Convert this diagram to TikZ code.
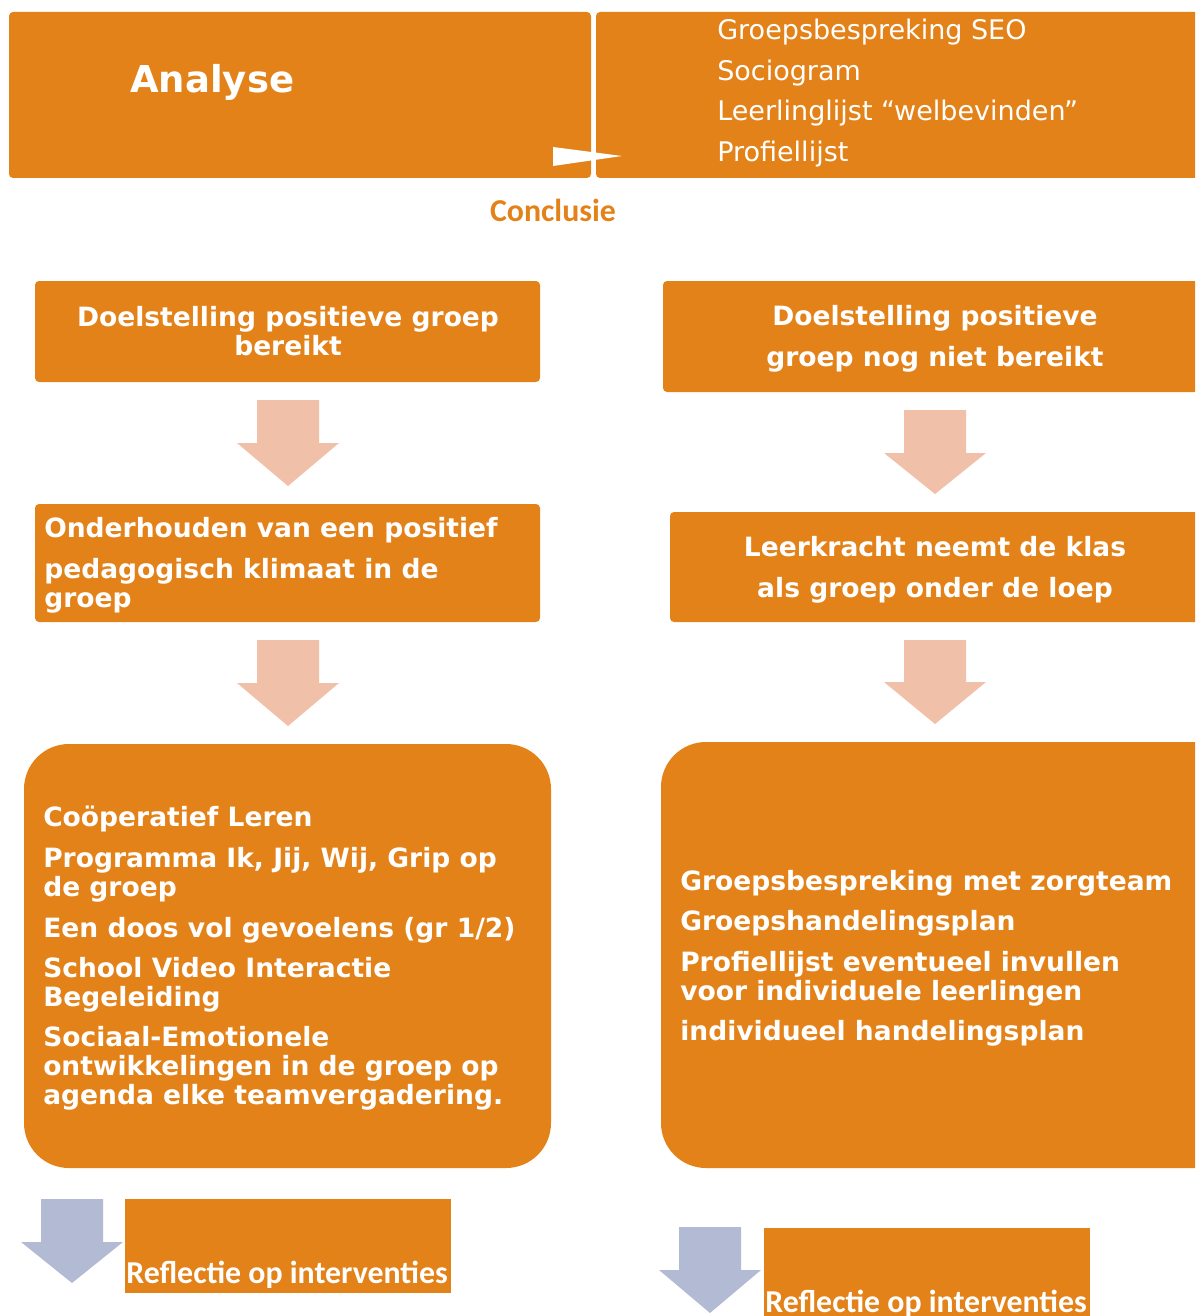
\documentclass[tikz,border=0pt]{standalone}
\usepackage{fontspec}
\setmainfont{DejaVu Sans}
\newfontfamily\calib{Carlito}
\definecolor{org}{HTML}{E4821A}
\definecolor{peach}{HTML}{F0C0A8}
\definecolor{lav}{HTML}{B2BAD4}
\newcommand{\barrow}[5]{\fill[#5] (#1-31,#2) -- (#1+31,#2) -- (#1+31,#3) -- (#1+51,#3) -- (#1,#4) -- (#1-51,#3) -- (#1-31,#3) -- cycle;}
\tikzset{
  box/.style={fill=org, rounded corners=3pt},
  bigbox/.style={fill=org, rounded corners=33.75pt},
  bt/.style={inner sep=0pt, text=white, font=\fontsize{19.9}{22}\selectfont\bfseries},
  lt/.style={inner sep=0pt, text=white, font=\fontsize{20.25}{24}\selectfont},
  ht/.style={inner sep=0pt, text=white, font=\fontsize{27.75}{32}\selectfont\bfseries},
  ct/.style={inner sep=0pt, font=\fontsize{23.9}{28}\selectfont\calib\bfseries},
}
\begin{document}
\begin{tikzpicture}[x=0.75pt,y=-0.75pt]
\useasboundingbox (0,0) rectangle (1195,1316);
\clip (0,0) rectangle (1195,1316);
% top
\fill[box] (9,12) rectangle (591,178);
\fill[box] (596,12) rectangle (1215,178);
\fill[white] (553,147) -- (553,166) -- (622,156) -- cycle;
\node[ht, anchor=base west] (analyse) at (130,93) {Analyse};
\node[lt, anchor=base west] (t1) at (717,40) {Groepsbespreking SEO};
\node[lt, anchor=base west] (t2) at (717,81) {Sociogram};
\node[lt, anchor=base west] (t3) at (717,121) {Leerlinglijst “welbevinden”};
\node[lt, anchor=base west] (t4) at (717,162) {Profiellijst};
\node[ct, text=org, anchor=base] (concl) at (553,222) {Conclusie};
% row 2
\fill[box] (35,281) rectangle (540,382);
\fill[box] (663,281) rectangle (1215,392);
\node[bt, anchor=base] (l2a) at (288,326) {Doelstelling positieve groep};
\node[bt, anchor=base] (l2b) at (288,355) {bereikt};
\node[bt, anchor=base] (r2a) at (935,325) {Doelstelling positieve};
\node[bt, anchor=base] (r2b) at (935,366) {groep nog niet bereikt};
\barrow{288}{400}{443}{486}{peach}
\barrow{935}{410}{453}{494}{peach}
% row 3
\fill[box] (35,504) rectangle (540,622);
\fill[box] (670,512) rectangle (1215,622);
\node[bt, anchor=base west] (l3a) at (44,537) {Onderhouden van een positief};
\node[bt, anchor=base west] (l3b) at (44,578) {pedagogisch klimaat in de};
\node[bt, anchor=base west] (l3c) at (44,607) {groep};
\node[bt, anchor=base] (r3a) at (935,556) {Leerkracht neemt de klas};
\node[bt, anchor=base] (r3b) at (935,597) {als groep onder de loep};
\barrow{288}{640}{683}{726}{peach}
\barrow{935}{640}{682}{724}{peach}
% big boxes
\fill[bigbox] (24,744) rectangle (551,1168);
\fill[bigbox] (661,742) rectangle (1250,1168);
\node[bt, anchor=base west] (b1) at (43,826) {Coöperatief Leren};
\node[bt, anchor=base west] (b2) at (43,867) {Programma Ik, Jij, Wij, Grip op};
\node[bt, anchor=base west] (b3) at (43,896) {de groep};
\node[bt, anchor=base west] (b4) at (43,937) {Een doos vol gevoelens (gr 1/2)};
\node[bt, anchor=base west] (b5) at (43,977) {School Video Interactie};
\node[bt, anchor=base west] (b6) at (43,1006) {Begeleiding};
\node[bt, anchor=base west] (b7) at (43,1046) {Sociaal-Emotionele};
\node[bt, anchor=base west] (b8) at (43,1075) {ontwikkelingen in de groep op};
\node[bt, anchor=base west] (b9) at (43,1104) {agenda elke teamvergadering.};
\node[bt, anchor=base west] (c1) at (680,890) {Groepsbespreking met zorgteam};
\node[bt, anchor=base west] (c2) at (680,930) {Groepshandelingsplan};
\node[bt, anchor=base west] (c3) at (680,971) {Profiellijst eventueel invullen};
\node[bt, anchor=base west] (c4) at (680,1000) {voor individuele leerlingen};
\node[bt, anchor=base west] (c5) at (680,1040) {individueel handelingsplan};
% bottom
\barrow{72}{1199}{1242}{1283}{lav}
\barrow{710}{1227}{1270}{1313}{lav}
\fill[org] (125,1199) rectangle (451,1293);
\fill[org] (764,1228) rectangle (1090,1330);
\node[ct, text=white, anchor=base west] (refl1) at (126,1283) {Reflectie op interventies};
\node[ct, text=white, anchor=base west] (refl2) at (765,1312) {Reflectie op interventies};
\end{tikzpicture}
\end{document}
